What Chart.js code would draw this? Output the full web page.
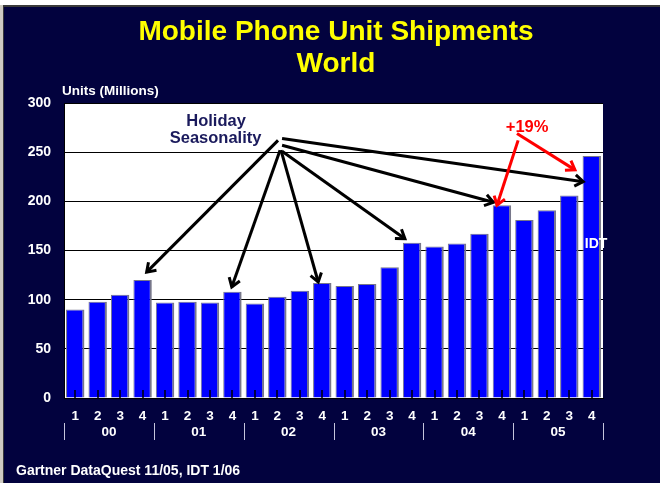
<!DOCTYPE html>
<html>
<head>
<meta charset="utf-8">
<script src="https://cdn.jsdelivr.net/npm/chart.js@4"></script>
<style>
  html, body { margin: 0; padding: 0; background: #fff; }
  #wrap { width: 660px; height: 483px; }
</style>
</head>
<body>
<div id="wrap"><canvas id="shipChart" width="660" height="483"></canvas></div>
<script>
const years = ["00", "01", "02", "03", "04", "05"];
const quarters = ["1", "2", "3", "4"];
const shipments = [90, 98, 105, 120, 97, 98, 97, 108, 96, 103, 109, 117,
                   114, 116, 133, 158, 154, 157, 167, 196, 181, 191, 206, 246];
const yTicks = [0, 50, 100, 150, 200, 250, 300];

const labels = years.flatMap(y => quarters.map(q => y + "-" + q));

const FONT = "'Liberation Sans', Arial, sans-serif";
const NAVY = "#02023e";

// annotation anchors in chart coordinates: [category index, value]
const holidayArrows = [
  [[9.03, 262], [3.18, 128]],
  [[9.12, 252], [6.97, 113]],
  [[9.16, 252], [10.82, 118]],
  [[9.21, 251], [14.68, 162]],
  [[9.21, 257], [18.62, 199]],
  [[9.21, 264], [22.62, 220]]
];
const growthArrows = [
  [[19.72, 262], [18.78, 196]],
  [[19.67, 269], [22.25, 232]]
];

function arrow(ctx, x1, y1, x2, y2, color) {
  const a = Math.atan2(y2 - y1, x2 - x1);
  const len = 10, spread = 0.6;
  ctx.strokeStyle = color;
  ctx.lineWidth = 3;
  ctx.lineCap = "butt";
  ctx.beginPath();
  ctx.moveTo(x1, y1);
  ctx.lineTo(x2, y2);
  ctx.stroke();
  ctx.beginPath();
  ctx.moveTo(x2 - len * Math.cos(a - spread), y2 - len * Math.sin(a - spread));
  ctx.lineTo(x2, y2);
  ctx.lineTo(x2 - len * Math.cos(a + spread), y2 - len * Math.sin(a + spread));
  ctx.stroke();
}

const slideDecor = {
  id: "slideDecor",
  beforeDraw(chart) {
    const { ctx, chartArea: a, width, height } = chart;
    ctx.save();
    ctx.fillStyle = "#ffffff";
    ctx.fillRect(0, 0, width, height);
    ctx.fillStyle = "#cfcbc2";
    ctx.fillRect(0, 5, 3, height);
    ctx.fillStyle = "#3a3a3a";
    ctx.fillRect(3, 5, width, 2);
    ctx.fillRect(3, 5, 1, height);
    ctx.fillStyle = NAVY;
    ctx.fillRect(4, 7, width, height);
    ctx.fillStyle = "#ffffff";
    ctx.fillRect(a.left, a.top, a.right - a.left, a.bottom - a.top);
    ctx.restore();
  },
  afterDatasetsDraw(chart) {
    const { ctx, chartArea: a, scales: { x, y } } = chart;
    ctx.save();
    // small inside tick marks on the baseline
    ctx.strokeStyle = "#000";
    ctx.lineWidth = 1.5;
    labels.forEach((_, i) => {
      const px = Math.round(x.getPixelForValue(i));
      ctx.beginPath();
      ctx.moveTo(px, a.bottom - 8);
      ctx.lineTo(px, a.bottom);
      ctx.stroke();
    });

    holidayArrows.forEach(([f, t]) => {
      arrow(ctx, x.getPixelForValue(f[0]), y.getPixelForValue(f[1]),
            x.getPixelForValue(t[0]), y.getPixelForValue(t[1]), "#000");
    });
    growthArrows.forEach(([f, t]) => {
      arrow(ctx, x.getPixelForValue(f[0]), y.getPixelForValue(f[1]),
            x.getPixelForValue(t[0]), y.getPixelForValue(t[1]), "#ff0000");
    });

    ctx.textAlign = "center";
    ctx.textBaseline = "alphabetic";
    ctx.fillStyle = "#1a1a5c";
    ctx.font = "bold 16.5px " + FONT;
    ctx.fillText("Holiday", x.getPixelForValue(6.27), y.getPixelForValue(277));
    ctx.fillText("Seasonality", x.getPixelForValue(6.25), y.getPixelForValue(259));

    ctx.fillStyle = "#ff0000";
    ctx.fillText("+19%", x.getPixelForValue(20.12), y.getPixelForValue(271));

    ctx.fillStyle = "#ffffff";
    ctx.font = "bold 14px " + FONT;
    ctx.textBaseline = "middle";
    ctx.fillText("IDT", x.getPixelForValue(23.19), y.getPixelForValue(156.5));
    ctx.restore();
  },
  afterDraw(chart) {
    const { ctx, chartArea: a, scales: { x } } = chart;
    ctx.save();
    // year row with separators
    ctx.strokeStyle = "#c4c4dc";
    ctx.lineWidth = 1;
    for (let k = 0; k <= years.length; k++) {
      const px = Math.round(x.getPixelForValue(k * 4 - 0.5)) + 0.5;
      ctx.beginPath();
      ctx.moveTo(px, a.bottom + 25);
      ctx.lineTo(px, a.bottom + 42);
      ctx.stroke();
    }
    ctx.fillStyle = "#ffffff";
    ctx.font = "bold 13.5px " + FONT;
    ctx.textAlign = "center";
    ctx.textBaseline = "alphabetic";
    years.forEach((yr, k) => {
      ctx.fillText(yr, x.getPixelForValue(k * 4 + 1.5), a.bottom + 38);
    });

    // titles and notes
    ctx.fillStyle = "#ffff00";
    ctx.font = "bold 28px " + FONT;
    ctx.fillText("Mobile Phone Unit Shipments", 336, 40);
    ctx.fillText("World", 336, 72);

    ctx.fillStyle = "#ffffff";
    ctx.font = "bold 13.5px " + FONT;
    ctx.textAlign = "left";
    ctx.fillText("Units (Millions)", 62, 95);
    ctx.font = "bold 14px " + FONT;
    ctx.fillText("Gartner DataQuest 11/05, IDT 1/06", 16, 475);
    ctx.restore();
  }
};

new Chart(document.getElementById("shipChart"), {
  type: "bar",
  data: {
    labels: labels,
    datasets: [{
      data: shipments,
      backgroundColor: "#0000ff",
      borderColor: "#77778a",
      borderWidth: { top: 1, left: 1, right: 2, bottom: 0 },
      borderSkipped: false,
      barPercentage: 0.82,
      categoryPercentage: 1.0
    }]
  },
  options: {
    responsive: false,
    animation: false,
    layout: { padding: { top: 103, left: 0, right: 57, bottom: 0 } },
    plugins: {
      legend: { display: false },
      tooltip: { enabled: false },
      title: { display: false }
    },
    scales: {
      x: {
        afterFit: s => { s.height = 85; },
        grid: { display: false, drawTicks: false },
        border: { display: true, color: "#000", width: 1 },
        ticks: {
          autoSkip: false,
          maxRotation: 0,
          padding: 10,
          color: "#ffffff",
          font: { family: FONT, size: 13.5, weight: "bold" },
          callback: (v, i) => quarters[i % quarters.length]
        }
      },
      y: {
        min: yTicks[0],
        max: yTicks[yTicks.length - 1],
        afterFit: s => { s.width = 64; },
        afterBuildTicks: s => { s.ticks = yTicks.map(v => ({ value: v })); },
        grid: { color: "#000", lineWidth: 1, drawTicks: false },
        border: { display: true, color: "#000", width: 1 },
        ticks: {
          padding: 13,
          color: "#ffffff",
          font: { family: FONT, size: 14, weight: "bold" }
        }
      }
    }
  },
  plugins: [slideDecor]
});
</script>
</body>
</html>
